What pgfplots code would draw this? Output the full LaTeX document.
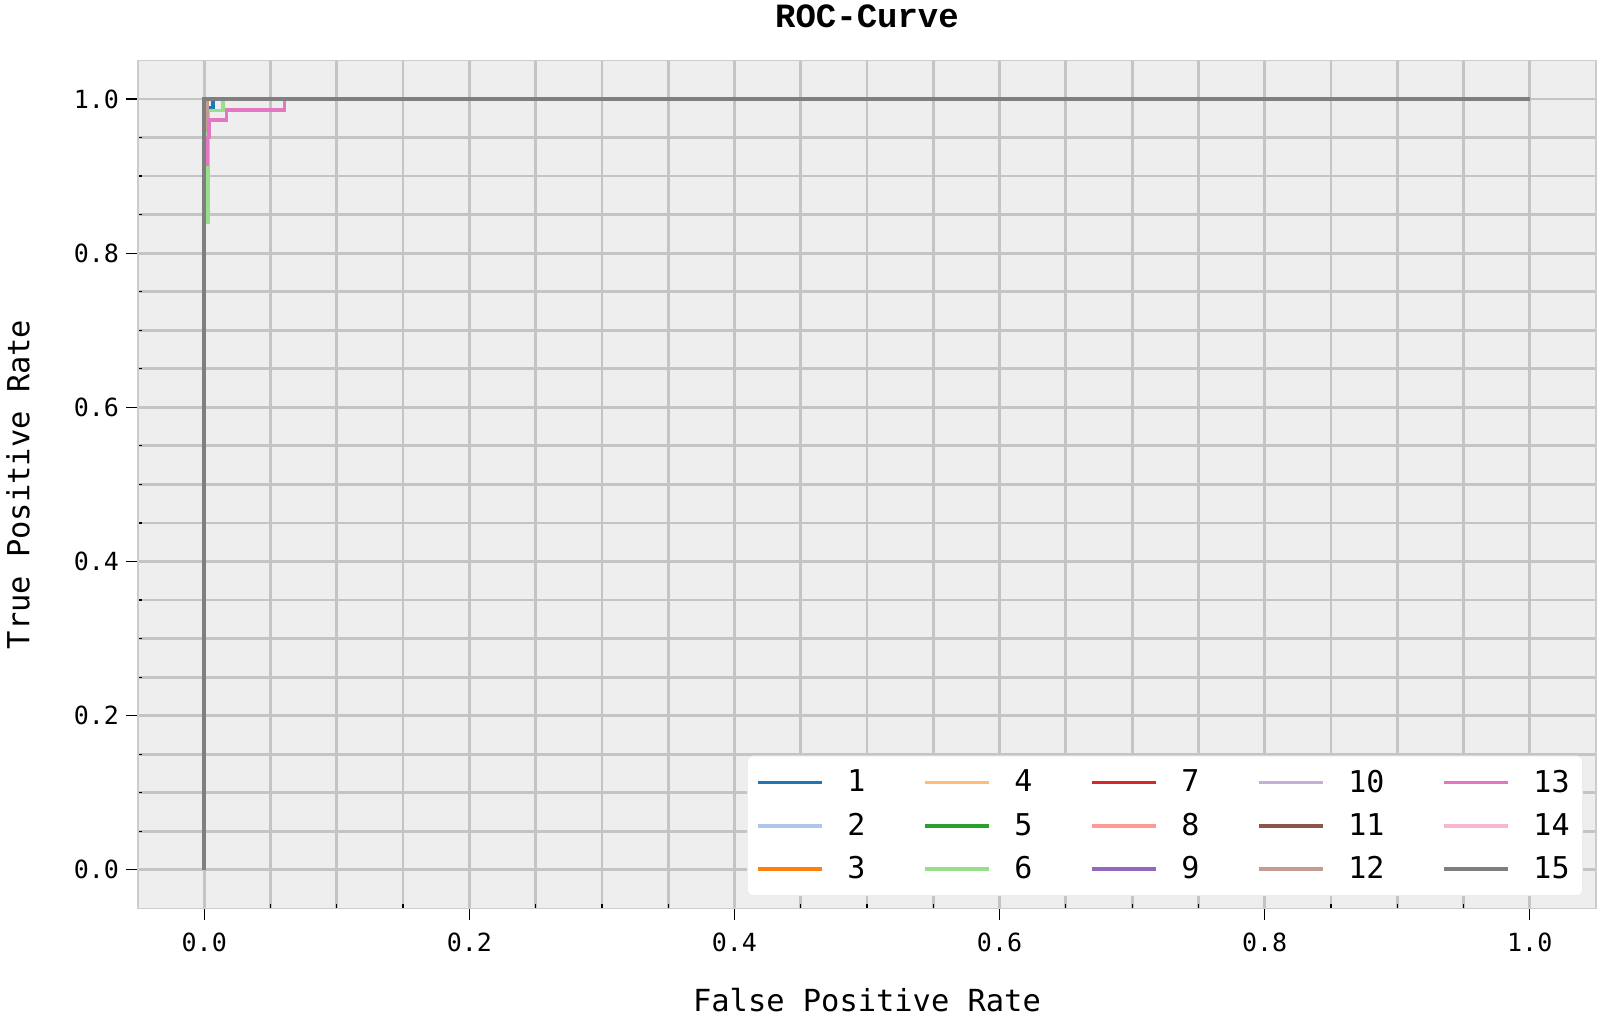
\documentclass[border=0pt]{standalone}
\usepackage{fontspec}
\usepackage{pgfplots}
\pgfplotsset{compat=1.18}
\setmainfont{DejaVu Sans Mono}
\newfontfamily\titlefont{Liberation Mono}
\newfontfamily\legfont{DejaVu Sans Mono}

% tab20 colours
\definecolor{c1}{HTML}{1F77B4}
\definecolor{c2}{HTML}{AEC7E8}
\definecolor{c3}{HTML}{FF7F0E}
\definecolor{c4}{HTML}{FFBB78}
\definecolor{c5}{HTML}{2CA02C}
\definecolor{c6}{HTML}{98DF8A}
\definecolor{c7}{HTML}{D62728}
\definecolor{c8}{HTML}{FF9896}
\definecolor{c9}{HTML}{9467BD}
\definecolor{c10}{HTML}{C5B0D5}
\definecolor{c11}{HTML}{8C564B}
\definecolor{c12}{HTML}{C49C94}
\definecolor{c13}{HTML}{E377C2}
\definecolor{c14}{HTML}{F7B6D2}
\definecolor{c15}{HTML}{7F7F7F}
\definecolor{bgc}{HTML}{EEEEEE}
\definecolor{gridc}{HTML}{C4C4C4}
\definecolor{framec}{HTML}{CCCCCC}

\begin{document}
\begin{tikzpicture}
\begin{axis}[
  name=ax,
  scale only axis,
  width=729bp, height=424bp,
  xmin=-0.05, xmax=1.05,
  ymin=-0.05, ymax=1.05,
  xtick={0,0.2,0.4,0.6,0.8,1},
  ytick={0,0.2,0.4,0.6,0.8,1},
  xticklabels={0.0,0.2,0.4,0.6,0.8,1.0},
  yticklabels={0.0,0.2,0.4,0.6,0.8,1.0},
  minor tick num=3,
  grid=both,
  major grid style={draw=gridc, line width=1.4bp},
  minor grid style={draw=gridc, line width=1.4bp},
  axis background/.style={fill=bgc},
  axis line style={draw=framec, line width=0.8bp},
  tick pos=left,
  tick align=outside,
  major tick length=6bp,
  minor tick length=-2bp,
  tick style={black, line width=0.6bp},
  tick label style={font=\fontsize{12.5bp}{14bp}\selectfont},
  xticklabel style={yshift=-2.6bp},
  title={ROC-Curve},
  title style={font=\titlefont\bfseries\fontsize{17bp}{20bp}\selectfont,
    at={(axis description cs:0.5,1.0374)}, anchor=center},
  xlabel={False Positive Rate},
  ylabel={True Positive Rate},
  label style={font=\fontsize{15.2bp}{17bp}\selectfont},
  xlabel style={at={(axis description cs:0.5,-0.1085)}, anchor=center},
  ylabel style={at={(axis description cs:-0.0823,0.5)}, anchor=center},
  legend columns=3,
  transpose legend,
  legend image code/.code={\draw[line width=1.8bp] (0bp,0bp) -- (31.7bp,0bp);},
  legend style={
    font=\legfont\fontsize{15bp}{17bp}\selectfont,
    at={(1,0)}, anchor=south east, xshift=-6.5bp, yshift=6.2bp,
    draw=black!8, fill=white, rounded corners=3bp,
    inner xsep=4.5bp, inner ysep=5bp,
    row sep=5bp,
    cells={anchor=west},
    /tikz/every odd column/.append style={column sep=10bp},
    /tikz/every even column/.append style={column sep=27bp}
  },
  every axis plot/.append style={line width=1.9bp}
]
\addplot[c1] coordinates {(0,0) (0,0.988) (0.0068,0.988) (0.0068,1) (1,1)};
\addlegendentry{1}
\addplot[c2] coordinates {(0,0) (0,1) (1,1)};
\addlegendentry{2}
\addplot[c3] coordinates {(0,0) (0,1) (1,1)};
\addlegendentry{3}
\addplot[c4] coordinates {(0,0) (0,1) (1,1)};
\addlegendentry{4}
\addplot[c5] coordinates {(0,0) (0,1) (1,1)};
\addlegendentry{5}
\addplot[c6] coordinates {(0,0) (0,0.84) (0.0027,0.84) (0.0027,0.985) (0.0139,0.985) (0.0139,1) (1,1)};
\addlegendentry{6}
\addplot[c7] coordinates {(0,0) (0,1) (1,1)};
\addlegendentry{7}
\addplot[c8] coordinates {(0,0) (0,1) (1,1)};
\addlegendentry{8}
\addplot[c9] coordinates {(0,0) (0,1) (1,1)};
\addlegendentry{9}
\addplot[c10] coordinates {(0,0) (0,1) (1,1)};
\addlegendentry{10}
\addplot[c11] coordinates {(0,0) (0,1) (1,1)};
\addlegendentry{11}
\addplot[c12] coordinates {(0,0) (0,0.96) (0.0025,0.96) (0.0025,1) (1,1)};
\addlegendentry{12}
\addplot[c13] coordinates {(0,0) (0,0.915) (0.002,0.915) (0.002,0.95) (0.0035,0.95) (0.0035,0.973) (0.0168,0.973) (0.0168,0.986) (0.0605,0.986) (0.0605,1) (1,1)};
\addlegendentry{13}
\addplot[c14] coordinates {(0,0) (0,1) (1,1)};
\addlegendentry{14}
\addplot[c15] coordinates {(0,0) (0,1) (1,1)};
\addlegendentry{15}
\end{axis}
\pgfresetboundingbox
\path[use as bounding box] ([xshift=-69bp,yshift=-54.8bp]ax.south west) rectangle ([xshift=4bp,yshift=30.2bp]ax.north east);
\end{tikzpicture}
\end{document}
